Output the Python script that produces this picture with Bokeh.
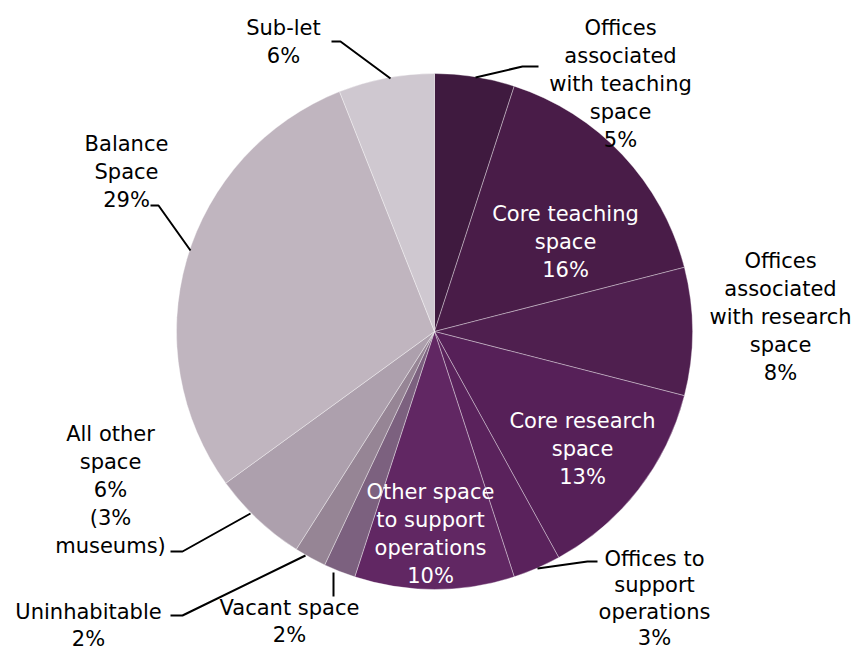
import numpy as np
from bokeh.plotting import figure
from bokeh.models import Range1d, ColumnDataSource
from bokeh.core.properties import value
from bokeh.embed import file_html
from bokeh.resources import INLINE

categories = ["Offices associated with teaching space", "Core teaching space",
              "Offices associated with research space", "Core research space",
              "Offices to support operations", "Other space to support operations",
              "Vacant space", "Uninhabitable", "All other space", "Balance Space", "Sub-let"]
shares = [5, 16, 8, 13, 3, 10, 2, 2, 6, 29, 6]
colors = ["#3f1a3f", "#491c48", "#4f1f4f", "#562058", "#5a225c", "#612763",
          "#7c617f", "#968595", "#ada0ad", "#c0b5bf", "#cfc8d0"]
label_lines = [
    ["Offices", "associated", "with teaching", "space", "5%"],
    ["Core teaching", "space", "16%"],
    ["Offices", "associated", "with research", "space", "8%"],
    ["Core research", "space", "13%"],
    ["Offices to", "support", "operations", "3%"],
    ["Other space", "to support", "operations", "10%"],
    ["Vacant space", "2%"],
    ["Uninhabitable", "2%"],
    ["All other", "space", "6%", "(3%", "museums)"],
    ["Balance", "Space", "29%"],
    ["Sub-let", "6%"],
]
label_colors = ["black", "white", "black", "white", "black", "white",
                "black", "black", "black", "black", "black"]
# label centres (first line) in page pixels, and line spacing
label_pos = [(620, 27), (565, 213), (780, 260), (582, 420), (654, 558), (430, 491),
             (289, 607), (88, 611), (110, 433), (126, 143), (283, 27)]
label_lh = [28, 28, 28, 28, 26.5, 28, 27, 27, 28, 28, 28]
leaders = [
    [(475, 77), (522, 66), (538, 66)],
    None,
    None,
    None,
    [(537, 568), (587, 561), (597, 561)],
    None,
    [(333, 572), (333, 596)],
    [(305, 555), (182, 615), (170, 615)],
    [(250, 513), (182, 551), (170, 551)],
    [(190, 250), (158, 205), (150, 205)],
    [(390, 78), (340, 41), (331, 41)],
]

W, H = 857, 651
p = figure(width=W, height=H, output_backend="svg", toolbar_location=None,
           x_range=Range1d(0, W), y_range=Range1d(-H, 0),
           min_border=0)
p.axis.visible = False
p.grid.visible = False
p.outline_line_color = None

cx, cy, r = 434, -331, 258
frac = np.array(shares) / sum(shares)
cum = np.concatenate([[0], np.cumsum(frac)])
starts = np.pi / 2 - 2 * np.pi * cum[:-1]
ends = np.pi / 2 - 2 * np.pi * cum[1:]
src = ColumnDataSource(dict(start=starts, end=ends, color=colors, cat=categories))
p.wedge(x=cx, y=cy, radius=r, start_angle="start", end_angle="end",
        direction="clock", fill_color="color", line_color="white",
        line_width=0.6, line_alpha=0.6, source=src)

for lines, (lx, ly), col, lh in zip(label_lines, label_pos, label_colors, label_lh):
    xs = [lx] * len(lines)
    ys = [-(ly + i * lh) for i in range(len(lines))]
    p.text(x=xs, y=ys, text=lines, text_align="center", text_baseline="middle",
           text_font=value("DejaVu Sans"), text_font_size="21px", text_color=col)

for ld in leaders:
    if ld is None:
        continue
    p.line([a for a, b in ld], [-b for a, b in ld], line_color="black", line_width=2)

open("out.html", "w").write(file_html(p, INLINE))
